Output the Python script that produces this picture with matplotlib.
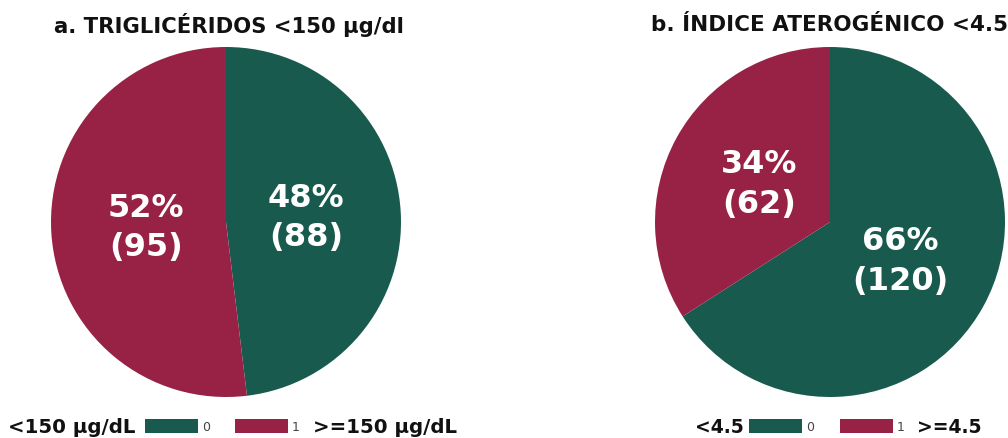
import matplotlib
matplotlib.use("Agg")
import numpy as np
import matplotlib.pyplot as plt
from matplotlib.patches import Rectangle

# Data
titles = ["a. TRIGLICÉRIDOS <150 μg/dl", "b. ÍNDICE ATEROGÉNICO <4.5"]
trig_counts = [88, 95]
trig_pcts = [48, 52]
aterog_counts = [120, 62]
aterog_pcts = [66, 34]
legend_low = ["<150 μg/dL", "<4.5"]
legend_high = [">=150 μg/dL", ">=4.5"]
legend_codes = ["0", "1"]

GREEN = "#185B4E"
RED = "#982246"
colors = [GREEN, RED]

W, H = 1008, 439
plt.rcParams["font.family"] = ["DejaVu Sans"]
fig = plt.figure(figsize=(W / 100, H / 100), dpi=100)


def fx(px):
    return px / W


def fy(py):
    return 1 - py / H


def draw_pie(cx, cy, r, counts, pcts):
    ax = fig.add_axes([fx(cx - r), fy(cy + r), 2 * r / W, 2 * r / H])
    wedges, _ = ax.pie(counts, colors=colors, startangle=90, counterclock=False,
                       radius=1, wedgeprops=dict(linewidth=0))
    for w, p, c in zip(wedges, pcts, counts):
        ang = np.deg2rad((w.theta1 + w.theta2) / 2)
        ax.text(0.46 * np.cos(ang), 0.46 * np.sin(ang), f"{p}%\n({c})",
                ha="center", va="center", color="white", fontsize=23,
                fontweight="bold", linespacing=1.35)
    ax.set_xlim(-1, 1)
    ax.set_ylim(-1, 1)
    ax.set_aspect("equal")
    ax.axis("off")


draw_pie(226, 223, 175, trig_counts, trig_pcts)
draw_pie(830, 223, 175, aterog_counts, aterog_pcts)

fig.text(fx(229), fy(25), titles[0], ha="center", va="center",
         fontsize=15.2, fontweight="bold", color="#111111")
fig.text(fx(651), fy(25), titles[1], ha="left", va="center",
         fontsize=15.5, fontweight="bold", color="#111111")


def legend(low_x, low_text, g_x, r_x, high_x, high_text, size):
    y = 428
    fig.text(fx(low_x), fy(y), low_text, ha="left", va="center",
             fontsize=size, fontweight="bold", color="#111111")
    for rx, col, code in zip([g_x, r_x], colors, legend_codes):
        fig.patches.append(Rectangle((fx(rx), fy(434)), 53 / W, 14 / H,
                                     transform=fig.transFigure, facecolor=col,
                                     edgecolor="none"))
        fig.text(fx(rx + 57), fy(y), code, ha="left", va="center",
                 fontsize=9, color="#444444")
    fig.text(fx(high_x), fy(y), high_text, ha="left", va="center",
             fontsize=size, fontweight="bold", color="#111111")


legend(8, legend_low[0], 145, 235, 313, legend_high[0], 14.2)
legend(695, legend_low[1], 749, 840, 917, legend_high[1], 13.5)

fig.savefig("out.png", dpi=100, facecolor="white")
